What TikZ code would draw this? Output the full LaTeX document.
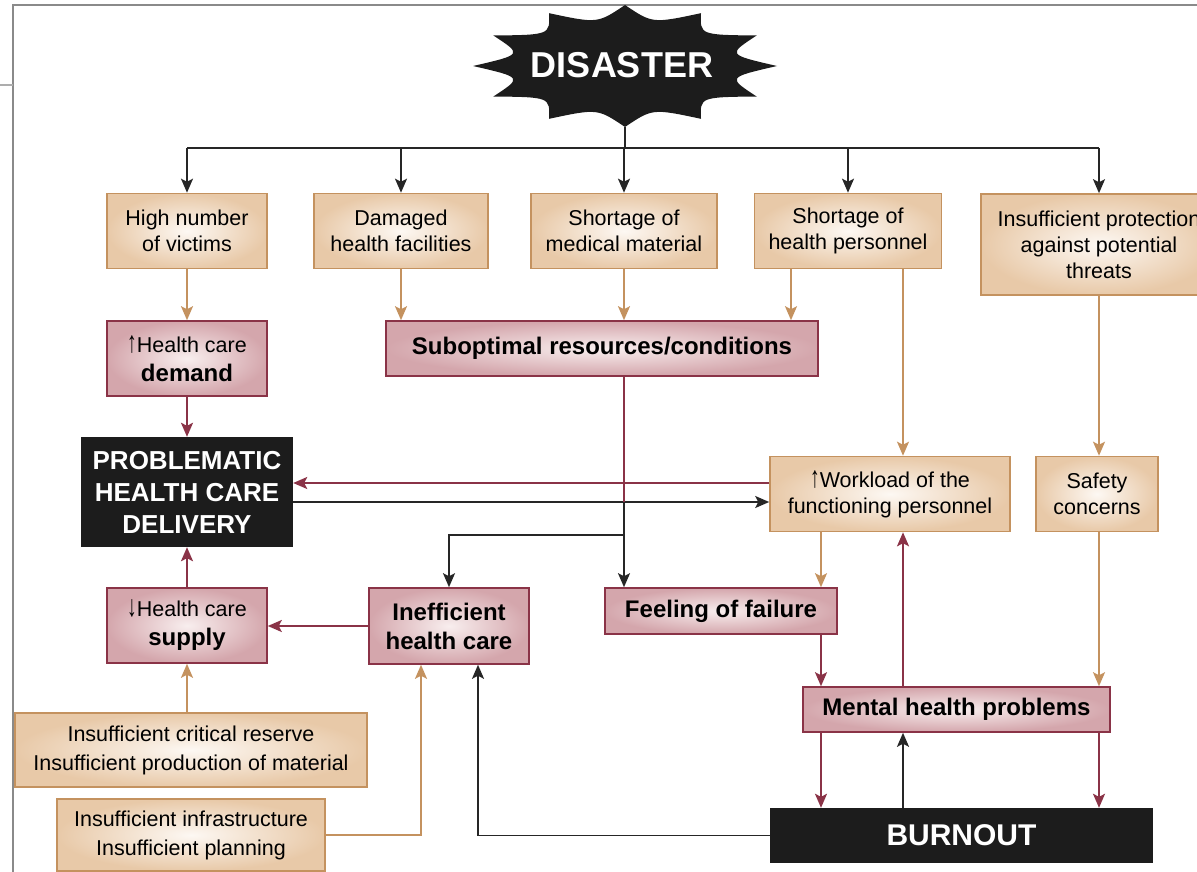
\documentclass[tikz,border=0pt]{standalone}
\usepackage{fontspec}
\setmainfont{Liberation Sans}
\usetikzlibrary{positioning,arrows.meta,calc}

\definecolor{tanline}{HTML}{C4925F}
\definecolor{tanin}{HTML}{FDF8F3}
\definecolor{tanout}{HTML}{E8C9A8}
\definecolor{redline}{HTML}{8A3347}
\definecolor{pinkin}{HTML}{F8EEEE}
\definecolor{pinkout}{HTML}{D4A6AC}
\definecolor{coreblack}{HTML}{1C1C1C}
\definecolor{linkblack}{HTML}{262626}
\definecolor{framegray}{HTML}{8A8A8A}

\newcommand\txtreg{\fontsize{21.5}{26}\selectfont\mdseries}
\newcommand\txtbold{\fontsize{24}{29}\selectfont\bfseries}
\newcommand\upmark{\scalebox{0.9}[1.4]{↑}}
\newcommand\downmark{\scalebox{0.9}[1.4]{↓}}

\begin{document}
\begin{tikzpicture}[x=1pt,y=-1pt,
    cause/.style={draw=tanline,line width=1.6pt,inner color=tanin,outer color=tanout,
      align=center,font=\txtreg,inner sep=0pt},
    effect/.style={draw=redline,line width=1.6pt,inner color=pinkin,outer color=pinkout,
      align=center,font=\txtbold,inner sep=0pt},
    core/.style={fill=coreblack,text=white,align=center,inner sep=0pt},
    tanlink/.style={draw=tanline,line width=1.8pt,-{Stealth[length=14pt,width=12pt,inset=3pt]}},
    redlink/.style={draw=redline,line width=1.8pt,-{Stealth[length=14pt,width=12pt,inset=3pt]}},
    blklink/.style={draw=linkblack,line width=1.8pt,-{Stealth[length=14pt,width=12pt,inset=3pt]}}]
  \useasboundingbox (0,0) rectangle (1197,872);
  \draw[framegray,line width=2pt] (13,872) -- (13,5) -- (1197,5);
  \draw[framegray!70,line width=2pt] (0,85) -- (13,85);

  % the blast
  \begin{scope}[shift={(625,66)}]
    \fill[coreblack] (0:152 and 61) \foreach \a [evaluate=\a as \m using \a-15] in {30,60,...,360}
      { .. controls (\m:106 and 44) .. (\a:152 and 61) } -- cycle;
  \end{scope}
  \node[text=white,font=\fontsize{36}{40}\selectfont\bfseries] (disaster) at (622,65) {DISASTER};
  \coordinate (blast) at (625,127);
  \coordinate (bus) at (625,148);

  % first row
  \node[cause,minimum width=160,minimum height=75] (victims) at (187,231) {High number\\of victims};
  \node[cause,minimum width=174,minimum height=75] (damaged) at (401,231) {Damaged\\health facilities};
  \node[cause,minimum width=186,minimum height=75] (medical) at (624,231) {Shortage of\\medical material};
  \node[cause,minimum width=187,minimum height=75] (personnel) at (848,231) {Shortage of\\health personnel};
  \node[cause,minimum width=236,minimum height=101] (protection) at (1099,244.5) {Insufficient protection\\against potential\\threats};

  \node[effect,minimum width=160,minimum height=75] (demand) at (187,358.5) {{\txtreg\upmark Health care}\\demand};
  \node[effect,minimum width=432,minimum height=55] (subopt) at (602,348.5) {Suboptimal resources/conditions};
  \node[core,minimum width=212,minimum height=110,font=\fontsize{26}{32}\selectfont\bfseries] (problem) at (187,492) {PROBLEMATIC\\HEALTH CARE\\DELIVERY};
  \node[cause,minimum width=240,minimum height=75] (workload) at (890,494) {\upmark Workload of the\\functioning personnel};
  \node[cause,minimum width=122,minimum height=75] (safety) at (1097,494) {Safety\\concerns};

  \node[effect,minimum width=160,minimum height=75] (supply) at (187,625.5) {{\txtreg\downmark Health care}\\supply};
  \node[effect,minimum width=160,minimum height=76] (ineff) at (449,626) {Inefficient\\health care};
  \node[effect,minimum width=232,minimum height=46] (feeling) at (721,611) {Feeling of failure};
  \node[effect,minimum width=307,minimum height=45] (mental) at (956.5,709.5) {Mental health problems};

  \node[cause,minimum width=352,minimum height=74,font=\fontsize{21.5}{29}\selectfont] (reserve) at (191,750) {Insufficient critical reserve\\Insufficient production of material};
  \node[cause,minimum width=268,minimum height=72,font=\fontsize{21.5}{29}\selectfont] (infra) at (191,835) {Insufficient infrastructure\\Insufficient planning};
  \node[core,minimum width=383,minimum height=55,font=\fontsize{30}{34}\selectfont\bfseries] (burnout) at (961.5,835.5) {BURNOUT};

  % columns and rows used by the connectors
  \coordinate (xmid) at (624,0);
  \coordinate (xsub) at (791,0);
  \coordinate (xfail) at (821,0);
  \coordinate (xwork) at (903,0);
  \coordinate (xsafe) at (1099,0);
  \coordinate (xinfra) at (421,0);
  \coordinate (xburn) at (478,0);
  \coordinate (upper) at (0,483);
  \coordinate (lower) at (0,502);
  \coordinate (fork) at (624,535);

  % from the blast
  \draw[blklink,-] (blast) -- (bus);
  \draw[blklink,-] (bus -| victims) -- (bus -| protection);
  \foreach \n in {victims,damaged,medical,personnel,protection}
    \draw[blklink] (bus -| \n) -- (\n.north);

  % causes
  \draw[tanlink] (victims) -- (demand);
  \draw[tanlink] (damaged.south) -- (damaged.south |- subopt.north);
  \draw[tanlink] (medical.south) -- (medical.south |- subopt.north);
  \draw[tanlink] (personnel.south -| xsub) -- (subopt.north -| xsub);
  \draw[tanlink] (personnel.south -| xwork) -- (workload.north -| xwork);
  \draw[tanlink] (protection.south) -- (protection.south |- safety.north);
  \draw[tanlink] (workload.south -| xfail) -- (feeling.north -| xfail);
  \draw[tanlink] (safety.south -| xsafe) -- (mental.north -| xsafe);
  \draw[tanlink] (reserve.north -| supply) -- (supply.south);
  \draw[tanlink] (infra.east) -| (ineff.south -| xinfra);

  % effects
  \draw[redlink] (demand) -- (problem);
  \draw[redlink] (supply) -- (problem);
  \draw[redlink] (ineff.west) -- (ineff.west -| supply.east);
  \draw[redlink] (workload.west |- upper) -- (problem.east |- upper);
  \draw[blklink] (problem.east |- lower) -- (workload.west |- lower);
  \draw[redlink,-] (subopt.south -| xmid) -- (lower -| xmid);
  \draw[blklink] (lower -| xmid) -- (feeling.north -| xmid);
  \draw[blklink] (fork) -| (ineff.north);
  \draw[redlink] (feeling.south -| xfail) -- (mental.north -| xfail);
  \draw[redlink] (mental.north -| xwork) -- (workload.south -| xwork);
  \draw[redlink] (mental.south -| xfail) -- (burnout.north -| xfail);
  \draw[redlink] (mental.south -| xsafe) -- (burnout.north -| xsafe);
  \draw[blklink] (burnout.north -| xwork) -- (mental.south -| xwork);
  \draw[blklink] (burnout.west) -| (ineff.south -| xburn);
\end{tikzpicture}
\end{document}
